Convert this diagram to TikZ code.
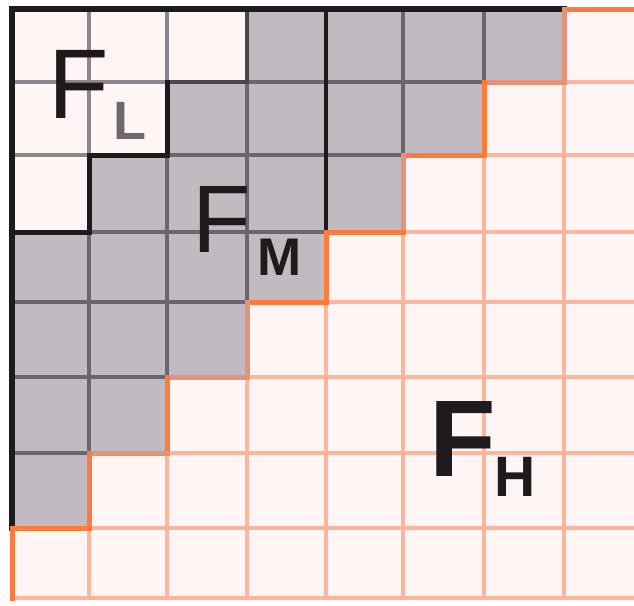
\documentclass[tikz,border=0pt]{standalone}
\usepackage{fontspec}
\setmainfont{Liberation Sans}
\definecolor{cellbg}{HTML}{FFF5F5}
\definecolor{fmgrey}{HTML}{C0BBC0}
\definecolor{darkgrid}{HTML}{6B656D}
\definecolor{midgrid}{HTML}{8C868E}
\definecolor{inkblack}{HTML}{1E1A1E}
\definecolor{brightorange}{HTML}{FF7A3C}
\definecolor{salmon}{HTML}{E4937A}
\definecolor{lightorange}{HTML}{FFB59B}
\definecolor{subgrey}{HTML}{6E686F}
\tikzset{
  lgrid/.style={draw=lightorange, line width=4pt},
  dgrid/.style={draw=darkgrid, line width=4pt},
  mgrid/.style={draw=midgrid, line width=3.5pt},
  blackedge/.style={draw=inkblack, line width=5pt, line cap=rect},
  orangeedge/.style={draw=brightorange, line width=5pt, line cap=rect},
  salmonedge/.style={draw=salmon, line width=5pt, line cap=rect},
  bigF/.style={inner sep=0pt, anchor=base west, text=inkblack},
  subtext/.style={inner sep=0pt, anchor=base west, text=inkblack, font=\bfseries\fontsize{54}{56}\selectfont},
}
\begin{document}
\begin{tikzpicture}[x=1pt, y=-1pt]
\path[use as bounding box] (0,0) rectangle (634,605);
\clip (0,0) rectangle (634,605);
\fill[white] (0,0) rectangle (634,605);
\fill[cellbg] (12,9) rectangle (643,598);
% light orange grid (F_H region)
\foreach \x in {89,167,247,326,403,484,564} \draw[lgrid] (\x,9) -- (\x,598);
\foreach \y in {82,155,232,302,377,453,528,598} \draw[lgrid] (12,\y) -- (643,\y);
% F_M region
\begin{scope}
\clip (12,9) -- (564,9) -- (564,82) -- (484,82) -- (484,155) -- (403,155) -- (403,232) -- (326,232) -- (326,302) -- (247,302) -- (247,377) -- (167,377) -- (167,453) -- (89,453) -- (89,528) -- (12,528) -- cycle;
\fill[fmgrey] (0,0) rectangle (643,605);
\foreach \x in {89,167,247,326,403,484} \draw[dgrid] (\x,9) -- (\x,598);
\foreach \y in {82,155,232,302,377,453} \draw[dgrid] (12,\y) -- (643,\y);
\end{scope}
% F_L region
\begin{scope}
\clip (12,9) -- (247,9) -- (247,82) -- (167,82) -- (167,155) -- (89,155) -- (89,232) -- (12,232) -- cycle;
\fill[cellbg] (0,0) rectangle (643,605);
\foreach \x in {89,167} \draw[mgrid] (\x,9) -- (\x,598);
\foreach \y in {82,155} \draw[mgrid] (12,\y) -- (643,\y);
\end{scope}
% F_L / F_M boundary
\draw[draw=darkgrid!70!black, line width=4.5pt, line cap=rect] (247,9) -- (247,82) -- (167,82);
\draw[blackedge, line join=miter] (167,82) -- (167,155) -- (89,155) -- (89,232) -- (12,232);
\draw[draw=inkblack, line width=4pt] (326,9) -- (326,232);
% outer black border
\draw[blackedge, line width=6pt] (12,528) -- (12,9) -- (564,9);
% F_M / F_H boundary
\draw[orangeedge] (564,9) -- (643,9);
\draw[salmonedge] (564,9) -- (564,82) -- (484,82);
\draw[orangeedge] (484,82) -- (484,155) -- (403,155);
\draw[salmonedge] (403,155) -- (403,232);
\draw[orangeedge] (403,232) -- (326,232) -- (326,302) -- (247,302);
\draw[salmonedge] (247,302) -- (247,377) -- (167,377);
\draw[orangeedge] (167,377) -- (167,453);
\draw[salmonedge] (167,453) -- (89,453);
\draw[orangeedge] (89,453) -- (89,528) -- (12,528) -- (12,598);
% labels
\node[bigF, font=\fontsize{99}{100}\selectfont] (fl) at (48,118) {F};
\node[subtext, text=subgrey] (fls) at (113,139) {L};
\node[bigF, font=\fontsize{96}{98}\selectfont] (fm) at (192,252) {F};
\node[subtext, font=\bfseries\fontsize{53}{55}\selectfont] (fms) at (257,275) {M};
\node[bigF, font=\bfseries\fontsize{109}{110}\selectfont] (fh) at (429,476) {F};
\node[subtext, font=\bfseries\fontsize{57}{58}\selectfont] (fhs) at (494,496) {H};
\end{tikzpicture}
\end{document}
